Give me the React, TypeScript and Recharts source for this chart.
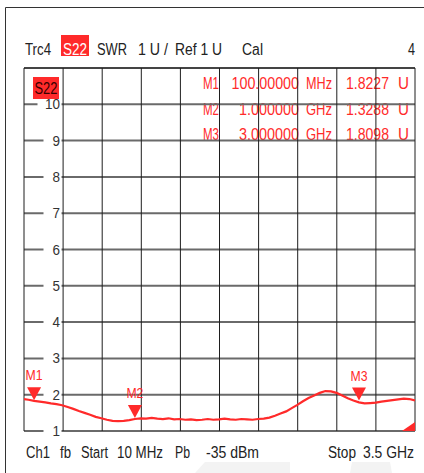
import React from "react";
import {
  ComposedChart,
  Line,
  Scatter,
  XAxis,
  YAxis,
  CartesianGrid,
  ReferenceLine,
  ReferenceDot,
} from "recharts";

// sweep: 10 MHz .. 3.5 GHz, SWR trace
const freqGHz = [
  0.01, 0.05, 0.1, 0.15, 0.2, 0.25, 0.3, 0.35, 0.4, 0.45, 0.5, 0.55, 0.6, 0.65, 0.7, 0.75, 0.8, 0.85,
  0.9, 0.95, 1.0, 1.05, 1.1, 1.15, 1.2, 1.25, 1.3, 1.35, 1.4, 1.45, 1.5, 1.55, 1.6, 1.65, 1.7, 1.75,
  1.8, 1.85, 1.9, 1.95, 2.0, 2.05, 2.1, 2.15, 2.2, 2.25, 2.3, 2.35, 2.4, 2.45, 2.5, 2.55, 2.6, 2.65,
  2.7, 2.75, 2.8, 2.85, 2.9, 2.95, 3.0, 3.05, 3.1, 3.15, 3.2, 3.25, 3.3, 3.35, 3.4, 3.45, 3.5,
];
const swr = [
  1.88, 1.86, 1.83, 1.81, 1.79, 1.76, 1.74, 1.71, 1.66, 1.61, 1.55, 1.5, 1.45, 1.39, 1.35, 1.31, 1.28, 1.27,
  1.28, 1.3, 1.33, 1.35, 1.34, 1.36, 1.34, 1.33, 1.35, 1.32, 1.33, 1.31, 1.32, 1.3, 1.31, 1.33, 1.31, 1.32,
  1.34, 1.32, 1.31, 1.33, 1.32, 1.31, 1.33, 1.34, 1.37, 1.42, 1.48, 1.54, 1.63, 1.72, 1.82, 1.91, 1.98, 2.05,
  2.1, 2.09, 2.05, 1.98, 1.9, 1.84, 1.79, 1.76, 1.77, 1.78, 1.81, 1.83, 1.85, 1.87, 1.89, 1.88, 1.84,
];

// markers
const markerNames = ["M1", "M2", "M3"];
const markerFreqs = [0.1, 1.0, 3.0];
const markerFreqLabels = ["100.00000", "1.000000", "3.000000"];
const markerFreqUnits = ["MHz", "GHz", "GHz"];
const markerValues = [1.8227, 1.3288, 1.8098];

// 10 divisions across the sweep
const xGridTicks = [0.01, 0.359, 0.708, 1.057, 1.406, 1.755, 2.104, 2.453, 2.802, 3.151, 3.5];
const yTicks = [1, 2, 3, 4, 5, 6, 7, 8, 9, 10];

const headerWords = ["Trc4", "S22", "SWR", "1 U /", "Ref 1 U", "Cal", "4"];
const footerWords = ["Ch1", "fb", "Start", "10 MHz", "Pb", "-35 dBm", "Stop", "3.5 GHz"];

const trace = freqGHz.map((f, i) => ({ f, v: swr[i] }));
const markers = markerNames.map((name, i) => ({ name, f: markerFreqs[i], v: markerValues[i] }));

const FONT = "'Liberation Sans', Arial, sans-serif";
const RED = "#ff2a2a";
const W = 424;
const H = 473;

// narrow instrument font: squeeze regular glyphs into the measured width
const T = ({ x, y, w, anchor = "start", size = 16, fill = "#222", children }: any) => (
  <text
    x={x}
    y={y}
    textAnchor={anchor}
    fontSize={size}
    fontFamily={FONT}
    fill={fill}
    textLength={w}
    lengthAdjust="spacingAndGlyphs"
  >
    {children}
  </text>
);

const YTick = (props: any) => {
  const { y, payload } = props;
  const label = String(payload.value);
  const w = 12 + 6 * label.length;
  return (
    <g>
      <rect x={61.5 - w} y={y - 5} width={w} height={10} fill="#fff" />
      <T x={60} y={y + 5} w={7.5 * label.length} anchor="end" size={14} fill="#333">
        {label}
      </T>
    </g>
  );
};

const MarkerShape = (props: any) => {
  const { cx, cy, payload } = props;
  const tip = cy - 1;
  return (
    <g>
      <polygon points={`${cx - 7},${tip - 13} ${cx + 7},${tip - 13} ${cx},${tip}`} fill={RED} />
      <T x={cx} y={tip - 20} w={17} anchor="middle" size={14} fill={RED}>
        {payload.name}
      </T>
    </g>
  );
};

const OverflowMark = (props: any) => {
  const { cx, cy } = props;
  return <polygon points={`${cx},${cy} ${cx},${cy - 9} ${cx - 13},${cy}`} fill={RED} />;
};

export default function App() {
  const rowBase = [89, 115, 140];
  const headerX = [25, 75, 97, 138, 175, 242, 415];
  const headerW = [26, 24, 30, 30, 47, 21, 7];
  const footerX = [26, 60, 81, 117, 175, 206, 328, 414];
  const footerW = [24, 11, 27, 46, 15, 53, 28, 51];

  return (
    <div style={{ position: "absolute", left: 0, top: 0, width: W, height: H, background: "#fff" }}>
      {/* readout table sits under the grid */}
      <svg width={W} height={H} style={{ position: "absolute", left: 0, top: 0 }}>
        <path d="M195,473 L205,462 L290,462 L290,473 Z" fill="#f3f3f3" />
        <path d="M350,473 L352,462 L390,462 L392,473 Z" fill="#f3f3f3" />
        {markerNames.map((name, i) => (
          <g key={name}>
            <T x={219} y={rowBase[i]} w={16} anchor="end" fill={RED}>{name}</T>
            <T x={299} y={rowBase[i]} w={markerFreqLabels[i].length * 7.5} anchor="end" fill={RED}>
              {markerFreqLabels[i]}
            </T>
            <T x={306} y={rowBase[i]} w={26} fill={RED}>{markerFreqUnits[i]}</T>
            <T x={389} y={rowBase[i]} w={43} anchor="end" fill={RED}>{markerValues[i].toFixed(4)}</T>
            <T x={398} y={rowBase[i]} w={11} fill={RED}>U</T>
          </g>
        ))}
      </svg>

      <div style={{ position: "absolute", left: 0, top: 0 }}>
        <ComposedChart width={W} height={H} margin={{ top: 68, right: 9, bottom: 42, left: 24 }}>
          <CartesianGrid vertical={false} stroke="#6a6a6a" strokeWidth={2} />
          {xGridTicks.map((t) => (
            <ReferenceLine key={t} x={t} stroke="#1e1e1e" strokeWidth={1} />
          ))}
          <ReferenceLine y={11} stroke="#1e1e1e" strokeWidth={1} />
          <XAxis type="number" dataKey="f" domain={[0.01, 3.5]} allowDataOverflow hide />
          <YAxis
            type="number"
            domain={[1, 11]}
            ticks={yTicks}
            interval={0}
            allowDataOverflow
            mirror
            axisLine={false}
            tickLine={false}
            tick={<YTick />}
          />
          <Line
            data={trace}
            dataKey="v"
            type="linear"
            stroke={RED}
            strokeWidth={2.2}
            dot={false}
            isAnimationActive={false}
          />
          <Scatter data={markers} dataKey="v" shape={<MarkerShape />} isAnimationActive={false} />
          <ReferenceDot x={3.5} y={1} r={0} shape={<OverflowMark />} />
        </ComposedChart>
      </div>

      {/* header, footer, frame */}
      <svg width={W} height={H} style={{ position: "absolute", left: 0, top: 0, pointerEvents: "none" }}>
        <path d={`M5.5,${H} L5.5,7.5 L${W},7.5`} stroke="#333" strokeWidth={1} fill="none" />
        {headerWords.map((w, i) =>
          i === 1 ? (
            <g key={w}>
              <rect x={61} y={35} width={28} height={21} fill={RED} />
              <T x={headerX[i]} y={55} w={headerW[i]} anchor="middle" fill="#fff">{w}</T>
            </g>
          ) : (
            <T key={w} x={headerX[i]} y={55} w={headerW[i]} anchor={i === headerWords.length - 1 ? "end" : "start"}>
              {w}
            </T>
          )
        )}
        {footerWords.map((w, i) => (
          <T key={w} x={footerX[i]} y={458} w={footerW[i]} anchor={i === footerWords.length - 1 ? "end" : "start"}>
            {w}
          </T>
        ))}
        <rect x={33} y={77} width={26} height={22} fill={RED} />
        <T x={46} y={94} w={23} anchor="middle" fill="#3a0000">S22</T>
      </svg>
    </div>
  );
}
